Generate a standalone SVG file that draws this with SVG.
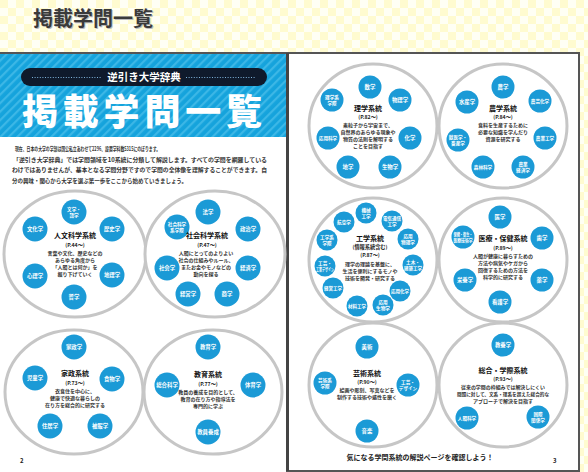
<svg xmlns="http://www.w3.org/2000/svg" width="588" height="472" viewBox="0 0 588 472">
<defs>
<pattern id="chk" width="16" height="16" patternUnits="userSpaceOnUse">
<rect width="16" height="16" fill="#fffff4"/>
<rect width="8" height="8" fill="#fffbd0"/>
<rect x="8" y="8" width="8" height="8" fill="#fffbd0"/>
</pattern>
<pattern id="stripe" width="6" height="6" patternUnits="userSpaceOnUse" patternTransform="rotate(45)">
<rect width="6" height="6" fill="#15a3dc"/>
<rect width="2.2" height="6" fill="#3cb7e6"/>
</pattern>
<style>
text{font-family:"Noto Sans CJK JP","Noto Sans",sans-serif}
.ring{fill:#fff;stroke:#c6c6c6;stroke-width:3}
.node{fill:#1b9ad6}
.nt{font-size:5.4px;font-weight:700;fill:#fff;text-anchor:middle}
.n2{font-size:4.6px;font-weight:700;fill:#fff;text-anchor:middle}
.ttl{font-size:7px;font-weight:700;fill:#111;text-anchor:middle}
.ref{font-size:5.2px;font-weight:700;fill:#222;text-anchor:middle}
.desc{font-size:5px;font-weight:700;fill:#333;text-anchor:middle}
.para{font-size:5.6px;font-weight:700;fill:#333}
</style>
</defs>

<rect width="588" height="472" fill="url(#chk)"/>
<text x="34" y="27" font-size="20" font-weight="700" fill="#bbb">掲載学問一覧</text>
<text x="33" y="26" font-size="20" font-weight="700" fill="#3a3a3a">掲載学問一覧</text>

<!-- pages -->
<rect x="-3" y="53" width="290" height="420" fill="#fff" stroke="#555" stroke-width="2"/>
<rect x="288" y="53" width="291" height="418" fill="#fff" stroke="#555" stroke-width="2"/>
<line x1="287.5" y1="53" x2="287.5" y2="471" stroke="#444" stroke-width="3"/>

<!-- banner -->
<g id="banner">
<rect x="0" y="54" width="286" height="83" fill="url(#stripe)"/>
<rect x="21" y="68" width="246" height="18" rx="9" fill="#0f1a2c"/>
<line x1="32" y1="77.5" x2="102" y2="77.5" stroke="#7fb4dc" stroke-width="1" stroke-dasharray="1 1.6"/>
<line x1="186" y1="77.5" x2="256" y2="77.5" stroke="#7fb4dc" stroke-width="1" stroke-dasharray="1 1.6"/>
<text x="144" y="81" font-size="10.5" font-weight="700" fill="#fff" text-anchor="middle">逆引き大学辞典</text>
<text x="142" y="124.5" font-size="36" font-weight="900" fill="#fff" text-anchor="middle" textLength="240" lengthAdjust="spacing">掲載学問一覧</text>
</g>

<g id="intro">
<text class="para" x="15" y="151" textLength="145" lengthAdjust="spacingAndGlyphs">現在、日本の大学の学部は国公私立あわせて2296、設置学科数5315にのぼります。</text>
<text class="para" x="13" y="161.5" textLength="254" lengthAdjust="spacingAndGlyphs">「逆引き大学辞典」では学問領域を10系統に分類して解説します。すべての学問を網羅している</text>
<text class="para" x="12" y="172" textLength="255" lengthAdjust="spacingAndGlyphs">わけではありませんが、基本となる学問分野ですので学問の全体像を理解することができます。自</text>
<text class="para" x="12" y="182.5" textLength="175" lengthAdjust="spacingAndGlyphs">分の興味・関心から大学を選ぶ第一歩をここから始めていきましょう。</text>
</g>

<!-- 人文科学系統 -->
<g id="jinbun">
<ellipse class="ring" cx="75" cy="254" rx="71" ry="63"/>
<circle class="node" cx="74" cy="212" r="12.5"/><text class="n2" x="74" y="210.8">文学・<tspan x="74" dy="5.8">語学</tspan></text>
<circle class="node" cx="112" cy="229" r="12.5"/><text class="nt" x="112" y="231">歴史学</text>
<circle class="node" cx="112" cy="275" r="12.5"/><text class="nt" x="112" y="277">地理学</text>
<circle class="node" cx="74" cy="297" r="12.5"/><text class="nt" x="74" y="299">哲学</text>
<circle class="node" cx="35" cy="276" r="12.5"/><text class="nt" x="35" y="278">心理学</text>
<circle class="node" cx="35" cy="229" r="12.5"/><text class="nt" x="35" y="231">文化学</text>
<text class="ttl" x="75" y="238">人文科学系統</text>
<text class="ref" x="75" y="246.5">(P.44〜)</text>
<text class="desc" x="75" y="254.5">言葉や文化、歴史などの</text>
<text class="desc" x="75" y="261.5">あらゆる角度から</text>
<text class="desc" x="75" y="268.5">「人間とは何か」を</text>
<text class="desc" x="75" y="275.5">掘り下げていく</text>
</g>

<!-- 社会科学系統 -->
<g id="shakai">
<ellipse class="ring" cx="215" cy="254" rx="70" ry="63"/>
<circle class="node" cx="208" cy="212" r="12.5"/><text class="nt" x="208" y="214">法学</text>
<circle class="node" cx="248" cy="229" r="12.5"/><text class="nt" x="248" y="231">政治学</text>
<circle class="node" cx="248" cy="268" r="12.5"/><text class="nt" x="248" y="270">経済学</text>
<circle class="node" cx="227" cy="294" r="12.5"/><text class="nt" x="227" y="296">商学</text>
<circle class="node" cx="188" cy="294" r="12.5"/><text class="nt" x="188" y="296">経営学</text>
<circle class="node" cx="167" cy="268" r="12.5"/><text class="nt" x="167" y="270">社会学</text>
<circle class="node" cx="177" cy="227" r="12.5"/><text class="n2" x="177" y="225.8">社会科学<tspan x="177" dy="5.8">系学際</tspan></text>
<text class="ttl" x="207" y="238">社会科学系統</text>
<text class="ref" x="207" y="246.5">(P.47〜)</text>
<text class="desc" x="206" y="254.5">人間にとってのよりよい</text>
<text class="desc" x="206" y="261.5">社会の仕組みやルール、</text>
<text class="desc" x="206" y="268.5">またお金やモノなどの</text>
<text class="desc" x="206" y="275.5">動向を探る</text>
</g>

<!-- 家政系統 -->
<g id="kasei">
<ellipse class="ring" cx="74" cy="392" rx="69" ry="62"/>
<circle class="node" cx="74" cy="347" r="12.5"/><text class="nt" x="74" y="349">家政学</text>
<circle class="node" cx="112" cy="379" r="12.5"/><text class="nt" x="112" y="381">食物学</text>
<circle class="node" cx="100" cy="426" r="12.5"/><text class="nt" x="100" y="428">被服学</text>
<circle class="node" cx="50" cy="426" r="12.5"/><text class="nt" x="50" y="428">住居学</text>
<circle class="node" cx="35" cy="378" r="12.5"/><text class="nt" x="35" y="380">児童学</text>
<text class="ttl" x="75" y="376">家政系統</text>
<text class="ref" x="75" y="384.5">(P.73〜)</text>
<text class="desc" x="75" y="393">衣食住を中心に、</text>
<text class="desc" x="75" y="400">健康で快適な暮らしの</text>
<text class="desc" x="75" y="407">在り方を総合的に研究する</text>
</g>

<!-- 教育系統 -->
<g id="kyoiku">
<ellipse class="ring" cx="213" cy="392" rx="69" ry="62"/>
<circle class="node" cx="208" cy="347" r="12.5"/><text class="nt" x="208" y="349">教育学</text>
<circle class="node" cx="253" cy="385" r="12.5"/><text class="nt" x="253" y="387">体育学</text>
<circle class="node" cx="208" cy="432" r="12.5"/><text class="nt" x="208" y="434">教員養成</text>
<circle class="node" cx="167" cy="385" r="12.5"/><text class="nt" x="167" y="387">総合科学</text>
<text class="ttl" x="208" y="377">教育系統</text>
<text class="ref" x="208" y="385.5">(P.77〜)</text>
<text class="desc" x="208" y="393.5">教員の養成を目的として、</text>
<text class="desc" x="208" y="400.5">教育の在り方や指導法を</text>
<text class="desc" x="208" y="407.5">専門的に学ぶ</text>
</g>

<text x="20" y="463" font-size="6" font-weight="700" fill="#222">2</text>

<!-- 理学系統 -->
<g id="rigaku">
<ellipse class="ring" cx="373" cy="126" rx="64" ry="62"/>
<circle class="node" cx="370" cy="87" r="11.5"/><text class="nt" x="370" y="89">数学</text>
<circle class="node" cx="400" cy="100" r="11.5"/><text class="nt" x="400" y="102">物理学</text>
<circle class="node" cx="410" cy="138" r="11.5"/><text class="nt" x="410" y="140">化学</text>
<circle class="node" cx="390" cy="167" r="11.5"/><text class="nt" x="390" y="169">生物学</text>
<circle class="node" cx="348" cy="167" r="11.5"/><text class="nt" x="348" y="169">地学</text>
<circle class="node" cx="328" cy="138" r="11.5"/><text class="n2" x="328" y="139.8">応用科学</text>
<circle class="node" cx="332" cy="100" r="11.5"/><text class="n2" x="332" y="98.8">理学系<tspan x="332" dy="5.8">学際</tspan></text>
<text class="ttl" x="368" y="111">理学系統</text>
<text class="ref" x="368" y="119">(P.82〜)</text>
<text class="desc" x="368" y="127">素粒子から宇宙まで、</text>
<text class="desc" x="368" y="134">自然界のあらゆる現象や</text>
<text class="desc" x="368" y="141">物質の法則を解明する</text>
<text class="desc" x="368" y="148">ことを目指す</text>
</g>

<!-- 農学系統 -->
<g id="nogaku">
<ellipse class="ring" cx="503" cy="126" rx="64" ry="62"/>
<circle class="node" cx="503" cy="87" r="11.5"/><text class="nt" x="503" y="89">農学</text>
<circle class="node" cx="540" cy="101" r="11.5"/><text class="n2" x="540" y="102.8">農芸化学</text>
<circle class="node" cx="545" cy="138" r="11.5"/><text class="n2" x="545" y="139.8">農業工学</text>
<circle class="node" cx="523" cy="167" r="11.5"/><text class="n2" x="523" y="165.8">農業<tspan x="523" dy="5.8">経済学</tspan></text>
<circle class="node" cx="483" cy="167" r="11.5"/><text class="n2" x="483" y="168.8">森林科学</text>
<circle class="node" cx="458" cy="140" r="11.5"/><text class="n2" x="458" y="138.8">獣医学・<tspan x="458" dy="5.8">畜産学</tspan></text>
<circle class="node" cx="467" cy="102" r="11.5"/><text class="nt" x="467" y="104">水産学</text>
<text class="ttl" x="503" y="111">農学系統</text>
<text class="ref" x="503" y="119">(P.84〜)</text>
<text class="desc" x="503" y="127">食料を生産するために</text>
<text class="desc" x="503" y="134">必要な知識を学んだり</text>
<text class="desc" x="503" y="141">資源を研究する</text>
</g>

<!-- 工学系統 -->
<g id="kogaku">
<ellipse class="ring" cx="373" cy="260" rx="64" ry="62"/>
<circle class="node" cx="366" cy="213" r="10.5"/><text class="n2" x="366" y="211.8">機械<tspan x="366" dy="5.8">工学</tspan></text>
<circle class="node" cx="392" cy="221" r="10.5"/><text class="n2" x="392" y="219.8" textLength="18" lengthAdjust="spacingAndGlyphs">電気通信</text><text class="n2" x="392" y="225.6">工学</text>
<circle class="node" cx="408" cy="239" r="10.5"/><text class="n2" x="408" y="237.8">応用<tspan x="408" dy="5.8">物理学</tspan></text>
<circle class="node" cx="413" cy="265" r="10.5"/><text class="n2" x="413" y="263.8">土木・</text><text class="n2" x="413" y="269.6" textLength="18" lengthAdjust="spacingAndGlyphs">建築工学</text>
<circle class="node" cx="400" cy="291" r="10.5"/><text class="n2" x="400" y="292.8" textLength="18" lengthAdjust="spacingAndGlyphs">応用化学</text>
<circle class="node" cx="383" cy="305" r="10.5"/><text class="n2" x="383" y="303.8">応用<tspan x="383" dy="5.8">生物学</tspan></text>
<circle class="node" cx="357" cy="306" r="10.5"/><text class="n2" x="357" y="307.8" textLength="18" lengthAdjust="spacingAndGlyphs">材料工学</text>
<circle class="node" cx="333" cy="288" r="10.5"/><text class="n2" x="333" y="289.8" textLength="18" lengthAdjust="spacingAndGlyphs">経営工学</text>
<circle class="node" cx="325" cy="266" r="10.5"/><text class="n2" x="325" y="264.8">工芸・</text><text class="n2" x="325" y="270.6" textLength="18" lengthAdjust="spacingAndGlyphs">工業デザイン</text>
<circle class="node" cx="327" cy="240" r="10.5"/><text class="n2" x="327" y="238.8">工学系<tspan x="327" dy="5.8">学際</tspan></text>
<circle class="node" cx="344" cy="222" r="10.5"/><text class="n2" x="344" y="223.8">航空学</text>
<text class="ttl" x="370" y="241">工学系統</text>
<text class="ref" x="370" y="248.5">(情報系統含む)</text>
<text class="ref" x="370" y="256.5">(P.87〜)</text>
<text class="desc" x="370" y="265.5">理学の理論を基盤に、</text>
<text class="desc" x="370" y="272.5">生活を便利にするモノや</text>
<text class="desc" x="370" y="279.5">技術を開発・研究する</text>
</g>

<!-- 医療・保健系統 -->
<g id="iryo">
<ellipse class="ring" cx="503" cy="260" rx="64" ry="62"/>
<circle class="node" cx="500" cy="217" r="11.5"/><text class="nt" x="500" y="219">医学</text>
<circle class="node" cx="542" cy="238" r="11.5"/><text class="nt" x="542" y="240">歯学</text>
<circle class="node" cx="542" cy="280" r="11.5"/><text class="nt" x="542" y="282">薬学</text>
<circle class="node" cx="500" cy="302" r="11.5"/><text class="nt" x="500" y="304">看護学</text>
<circle class="node" cx="465" cy="280" r="11.5"/><text class="nt" x="465" y="282">栄養学</text>
<circle class="node" cx="463" cy="237" r="11.5"/><text class="n2" x="463" y="235.8" textLength="19" lengthAdjust="spacingAndGlyphs">保健・衛生・</text><text class="n2" x="463" y="241.6" textLength="19" lengthAdjust="spacingAndGlyphs">医療技術学</text>
<text class="ttl" x="503" y="241">医療・保健系統</text>
<text class="ref" x="503" y="249.5">(P.89〜)</text>
<text class="desc" x="503" y="258">人間が健康に暮らすための</text>
<text class="desc" x="503" y="265">方法や病気やケガから</text>
<text class="desc" x="503" y="272">回復するための方法を</text>
<text class="desc" x="503" y="279">科学的に研究する</text>
</g>

<!-- 芸術系統 -->
<g id="geijutsu">
<ellipse class="ring" cx="373" cy="385" rx="64" ry="62"/>
<circle class="node" cx="367" cy="347" r="11.5"/><text class="nt" x="367" y="349">美術</text>
<circle class="node" cx="408" cy="385" r="11.5"/><text class="n2" x="408" y="383.8">工芸・<tspan x="408" dy="5.8">デザイン</tspan></text>
<circle class="node" cx="367" cy="431" r="11.5"/><text class="nt" x="367" y="433">音楽</text>
<circle class="node" cx="325" cy="383" r="11.5"/><text class="n2" x="325" y="381.8">芸術系<tspan x="325" dy="5.8">学際</tspan></text>
<text class="ttl" x="367" y="376">芸術系統</text>
<text class="ref" x="367" y="384">(P.90〜)</text>
<text class="desc" x="367" y="392">絵画や彫刻、写真などを</text>
<text class="desc" x="367" y="399">制作する技術や感性を磨く</text>
</g>

<!-- 総合・学際系統 -->
<g id="sogo">
<ellipse class="ring" cx="503" cy="385" rx="64" ry="62"/>
<circle class="node" cx="503" cy="345" r="11.5"/><text class="nt" x="503" y="347">教養学</text>
<circle class="node" cx="467" cy="418" r="11.5"/><text class="n2" x="467" y="419.8">人間科学</text>
<circle class="node" cx="538" cy="417" r="11.5"/><text class="n2" x="538" y="415.8">国際<tspan x="538" dy="5.8">関係学</tspan></text>
<text class="ttl" x="503" y="373">総合・学際系統</text>
<text class="ref" x="503" y="381">(P.93〜)</text>
<text class="desc" x="503" y="389" textLength="84" lengthAdjust="spacingAndGlyphs">従来の学問の枠組みでは解決しにくい</text>
<text class="desc" x="503" y="396" textLength="92" lengthAdjust="spacingAndGlyphs">問題に対して、文系・理系を超えた総合的な</text>
<text class="desc" x="503" y="403">アプローチで解決を目指す</text>
</g>

<text x="420" y="460" font-size="7" font-weight="700" fill="#222" text-anchor="middle">気になる学問系統の解説ページを確認しよう！</text>
<text x="553" y="463" font-size="6" font-weight="700" fill="#222">3</text>
</svg>
